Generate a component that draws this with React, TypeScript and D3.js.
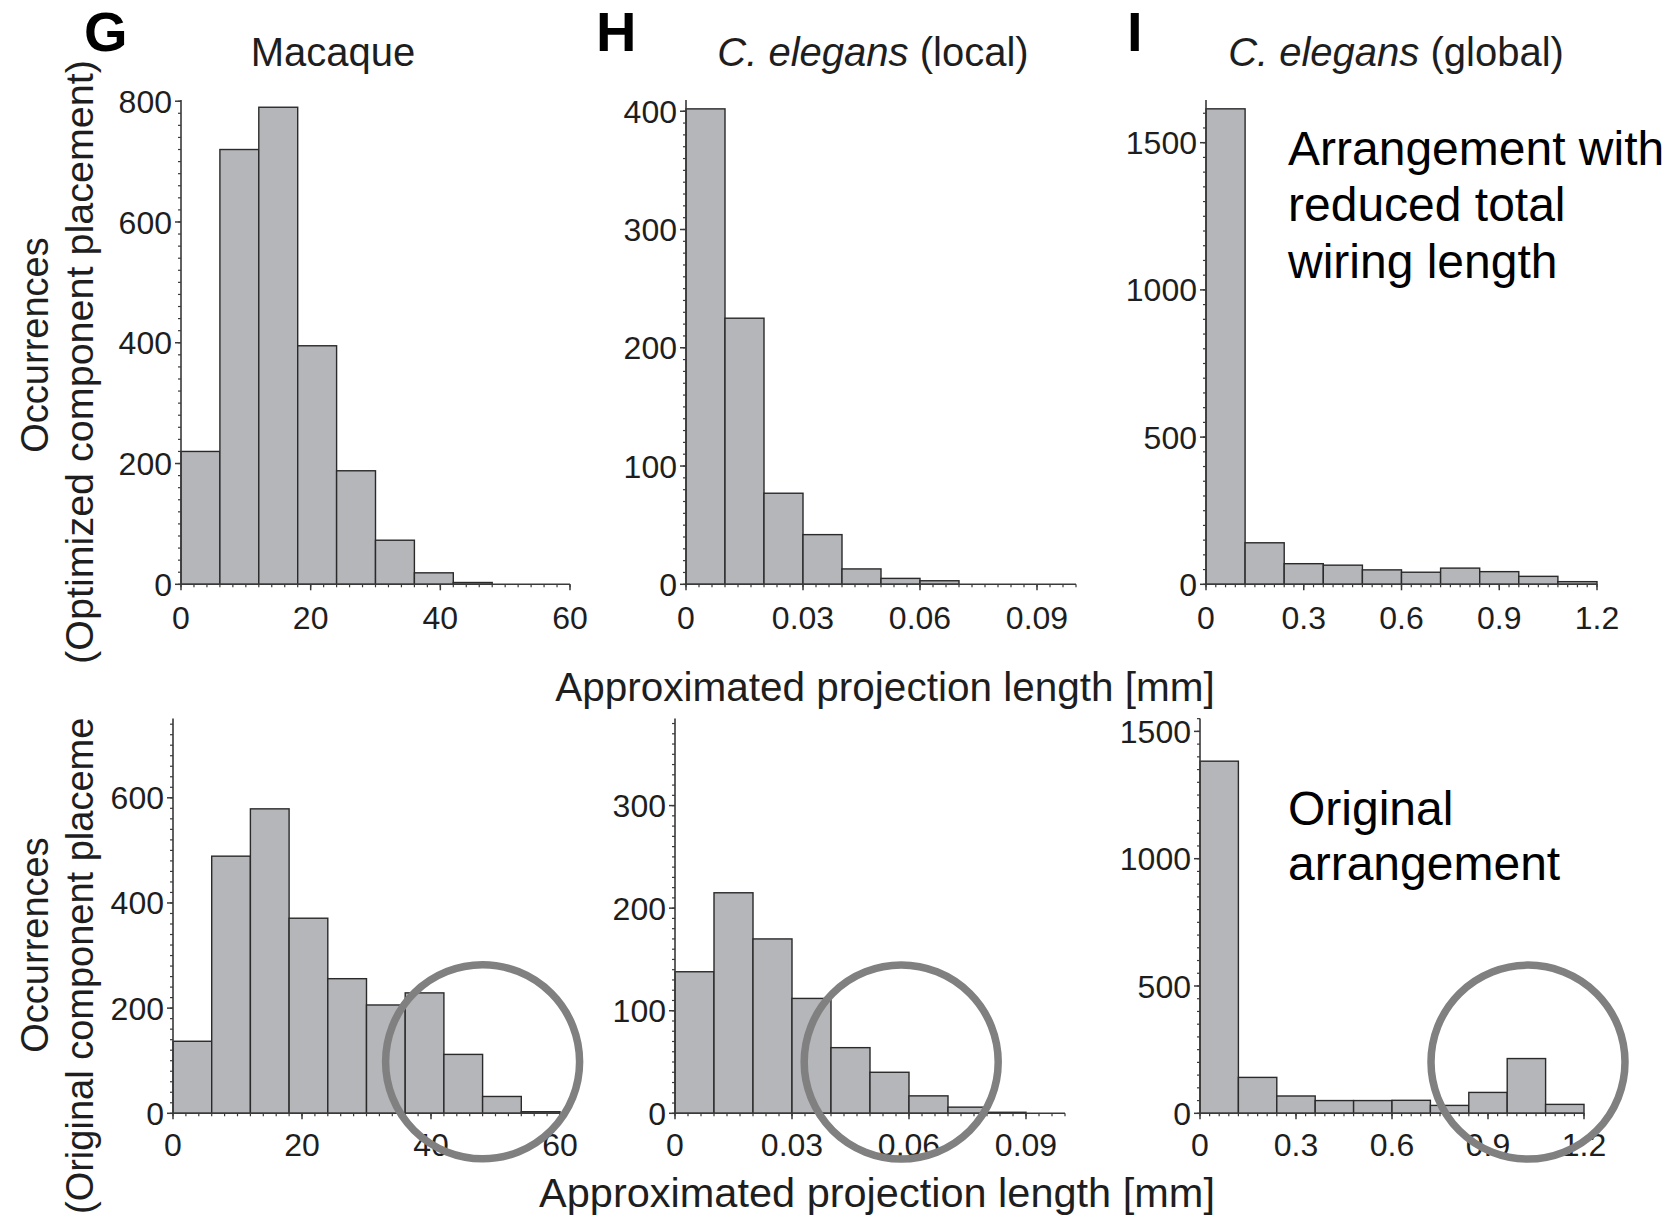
import { useEffect, useRef } from 'react';
import * as d3 from 'd3';

const WIDTH = 1665;
const HEIGHT = 1217;
const FONT = '"Liberation Sans", Arial, Helvetica, sans-serif';
const BAR_FILL = '#b5b6ba';
const BAR_EDGE = '#2a2a2a';
const AXIS = '#3a3a3a';
const INK = '#1e1e1e';
const RING = '#808080';

// Bin counts (left edge of first bin at 0)
const macaqueOptimized = [220, 720, 790, 395, 188, 73, 19, 3, 0, 0];
const localOptimized = [402, 225, 77, 42, 13, 5, 3, 0, 0, 0];
const globalOptimized = [1615, 141, 70, 65, 49, 41, 55, 43, 27, 9];
const macaqueOriginal = [137, 489, 579, 371, 256, 206, 229, 112, 32, 3];
const localOriginal = [138, 215, 170, 112, 64, 40, 17, 6, 1, 0];
const globalOriginal = [1383, 141, 68, 50, 50, 51, 31, 82, 215, 35];

// bin widths [mm]
const macaqueBin = 6;
const localBin = 0.01;
const globalBin = 0.12;

const macaqueXTicks = [0, 20, 40, 60];
const localXTicks = [0, 0.03, 0.06, 0.09];
const globalXTicks = [0, 0.3, 0.6, 0.9, 1.2];

const macaqueOptYTicks = [0, 200, 400, 600, 800];
const localOptYTicks = [0, 100, 200, 300, 400];
const globalOptYTicks = [0, 500, 1000, 1500];
const macaqueOrigYTicks = [0, 200, 400, 600];
const localOrigYTicks = [0, 100, 200, 300];
const globalOrigYTicks = [0, 500, 1000, 1500];

// circled tails in the "original" row, centre in data units
const highlightCenters = [
  { x: 48, y: 98 },
  { x: 0.058, y: 50 },
  { x: 1.025, y: 201 },
];

interface Panel {
  counts: number[];
  bin: number;
  xMax: number;
  xTicks: number[];
  xMinor: number;
  yMax: number;
  yTicks: number[];
  yMinor: number;
  left: number;
  right: number;
  top: number;
  bottom: number;
}

const TOP_ROW = { top: 100, bottom: 584.3 };
const BOTTOM_ROW = { top: 718.4, bottom: 1113.3 };

const panels: Panel[] = [
  { counts: macaqueOptimized, bin: macaqueBin, xMax: 60, xTicks: macaqueXTicks, xMinor: 2, yMax: 802, yTicks: macaqueOptYTicks, yMinor: 20, left: 181, right: 570, ...TOP_ROW },
  { counts: localOptimized, bin: localBin, xMax: 0.1, xTicks: localXTicks, xMinor: 0.01 / 3, yMax: 409.5, yTicks: localOptYTicks, yMinor: 10, left: 686, right: 1076, ...TOP_ROW },
  { counts: globalOptimized, bin: globalBin, xMax: 1.2, xTicks: globalXTicks, xMinor: 0.03, yMax: 1645, yTicks: globalOptYTicks, yMinor: 50, left: 1206, right: 1597, ...TOP_ROW },
  { counts: macaqueOriginal, bin: macaqueBin, xMax: 60, xTicks: macaqueXTicks, xMinor: 2, yMax: 751, yTicks: macaqueOrigYTicks, yMinor: 20, left: 173, right: 560, ...BOTTOM_ROW },
  { counts: localOriginal, bin: localBin, xMax: 0.1, xTicks: localXTicks, xMinor: 0.01 / 3, yMax: 385, yTicks: localOrigYTicks, yMinor: 10, left: 675, right: 1065, ...BOTTOM_ROW },
  { counts: globalOriginal, bin: globalBin, xMax: 1.2, xTicks: globalXTicks, xMinor: 0.03, yMax: 1551, yTicks: globalOrigYTicks, yMinor: 50, left: 1200, right: 1584, ...BOTTOM_ROW },
];

export default function App() {
  const svgRef = useRef<SVGSVGElement>(null);

  useEffect(() => {
    if (!svgRef.current) return;
    const svg = d3.select(svgRef.current);
    svg.selectAll('*').remove();

    svg.append('rect').attr('width', WIDTH).attr('height', HEIGHT).attr('fill', '#fff');

    panels.forEach((p, pi) => {
      const x = d3.scaleLinear().domain([0, p.xMax]).range([p.left, p.right]);
      const y = d3.scaleLinear().domain([0, p.yMax]).range([p.bottom, p.top]);
      const g = svg.append('g');

      // Bars
      const bins = p.counts
        .map((c, i) => ({ x0: i * p.bin, x1: (i + 1) * p.bin, c }))
        .filter(d => d.c > 0);
      g.selectAll('rect.bar')
        .data(bins)
        .join('rect')
        .attr('class', 'bar')
        .attr('x', d => x(d.x0))
        .attr('y', d => y(d.c))
        .attr('width', d => x(d.x1) - x(d.x0))
        .attr('height', d => y(0) - y(d.c))
        .attr('fill', BAR_FILL)
        .attr('stroke', BAR_EDGE)
        .attr('stroke-width', 1.4);

      // Minor ticks
      const nx = Math.round(p.xMax / p.xMinor);
      const xMinor = d3.range(0, nx + 1).map(i => i * p.xMinor);
      g.selectAll('line.xminor')
        .data(xMinor)
        .join('line')
        .attr('x1', d => x(d)).attr('x2', d => x(d))
        .attr('y1', p.bottom).attr('y2', p.bottom + 3)
        .attr('stroke', AXIS).attr('stroke-width', 1.2);

      const ny = Math.floor(p.yMax / p.yMinor);
      const yMinor = d3.range(0, ny + 1).map(i => i * p.yMinor);
      g.selectAll('line.yminor')
        .data(yMinor)
        .join('line')
        .attr('x1', p.left - 3).attr('x2', p.left)
        .attr('y1', d => y(d)).attr('y2', d => y(d))
        .attr('stroke', AXIS).attr('stroke-width', 1.2);

      // Major ticks
      g.selectAll('line.xmajor')
        .data(p.xTicks)
        .join('line')
        .attr('x1', d => x(d)).attr('x2', d => x(d))
        .attr('y1', p.bottom).attr('y2', p.bottom + 6)
        .attr('stroke', AXIS).attr('stroke-width', 1.5);
      g.selectAll('line.ymajor')
        .data(p.yTicks)
        .join('line')
        .attr('x1', p.left - 6).attr('x2', p.left)
        .attr('y1', d => y(d)).attr('y2', d => y(d))
        .attr('stroke', AXIS).attr('stroke-width', 1.5);

      // Axis lines
      g.append('path')
        .attr('d', `M${p.left},${p.top}V${p.bottom}H${p.right}`)
        .attr('fill', 'none')
        .attr('stroke', AXIS)
        .attr('stroke-width', 1.6);

      // Tick labels
      g.selectAll('text.xlab')
        .data(p.xTicks)
        .join('text')
        .attr('x', d => x(d))
        .attr('y', p.bottom + (pi < 3 ? 45 : 43))
        .attr('text-anchor', 'middle')
        .attr('font-family', FONT)
        .attr('font-size', 32)
        .attr('fill', INK)
        .text(d => String(d));
      g.selectAll('text.ylab')
        .data(p.yTicks)
        .join('text')
        .attr('x', p.left - 9)
        .attr('y', d => y(d))
        .attr('dy', '0.36em')
        .attr('text-anchor', 'end')
        .attr('font-family', FONT)
        .attr('font-size', 32)
        .attr('fill', INK)
        .text(d => String(d));

      // Highlight ring on the original-arrangement row
      if (pi >= 3) {
        const c = highlightCenters[pi - 3];
        g.append('circle')
          .attr('cx', x(c.x))
          .attr('cy', y(c.y))
          .attr('r', 97)
          .attr('fill', 'none')
          .attr('stroke', RING)
          .attr('stroke-width', 7.5);
      }
    });

    // Panel letters
    const letters = [
      { t: 'G', x: 84 },
      { t: 'H', x: 596 },
      { t: 'I', x: 1127 },
    ];
    svg.selectAll('text.letter')
      .data(letters)
      .join('text')
      .attr('x', d => d.x)
      .attr('y', 51)
      .attr('font-family', FONT)
      .attr('font-weight', 'bold')
      .attr('font-size', 56)
      .attr('fill', '#000')
      .text(d => d.t);

    // Panel titles
    const t1 = svg.append('text')
      .attr('x', 333).attr('y', 66)
      .attr('text-anchor', 'middle')
      .attr('font-family', FONT).attr('font-size', 40).attr('fill', INK);
    t1.text('Macaque');

    const t2 = svg.append('text')
      .attr('x', 873).attr('y', 66)
      .attr('text-anchor', 'middle')
      .attr('font-family', FONT).attr('font-size', 40).attr('fill', INK);
    t2.append('tspan').attr('font-style', 'italic').text('C. elegans');
    t2.append('tspan').text(' (local)');

    const t3 = svg.append('text')
      .attr('x', 1396).attr('y', 66)
      .attr('text-anchor', 'middle')
      .attr('font-family', FONT).attr('font-size', 40).attr('fill', INK);
    t3.append('tspan').attr('font-style', 'italic').text('C. elegans');
    t3.append('tspan').text(' (global)');

    // Shared x axis labels
    [
      { x: 885, y: 701, size: 40.5 },
      { x: 877, y: 1207, size: 41.5 },
    ].forEach(pos => {
      svg.append('text')
        .attr('x', pos.x).attr('y', pos.y)
        .attr('text-anchor', 'middle')
        .attr('font-family', FONT).attr('font-size', pos.size).attr('fill', INK)
        .text('Approximated projection length [mm]');
    });

    // Y axis labels
    const yl = (txt: string, bx: number, cy: number, anchor: string, size: number) =>
      svg.append('text')
        .attr('transform', `translate(${bx},${cy}) rotate(-90)`)
        .attr('text-anchor', anchor)
        .attr('font-family', FONT).attr('font-size', size).attr('fill', INK)
        .text(txt);
    yl('Occurrences', 48, 345, 'middle', 38);
    yl('(Optimized component placement)', 93, 362, 'middle', 39.5);
    yl('Occurrences', 48, 945, 'middle', 38);
    yl('(Original component placeme', 93, 1214, 'start', 38);

    // Annotations
    const note = (lines: string[], baselines: number[]) => {
      lines.forEach((l, i) => {
        svg.append('text')
          .attr('x', 1288).attr('y', baselines[i])
          .attr('font-family', FONT).attr('font-size', 48).attr('fill', '#000')
          .text(l);
      });
    };
    note(['Arrangement with', 'reduced total', 'wiring length'], [165, 221, 278]);
    note(['Original', 'arrangement'], [825, 880]);
  }, []);

  return (
    <svg
      ref={svgRef}
      width={WIDTH}
      height={HEIGHT}
      viewBox={`0 0 ${WIDTH} ${HEIGHT}`}
      style={{ position: 'absolute', left: 0, top: 0, display: 'block' }}
    />
  );
}
